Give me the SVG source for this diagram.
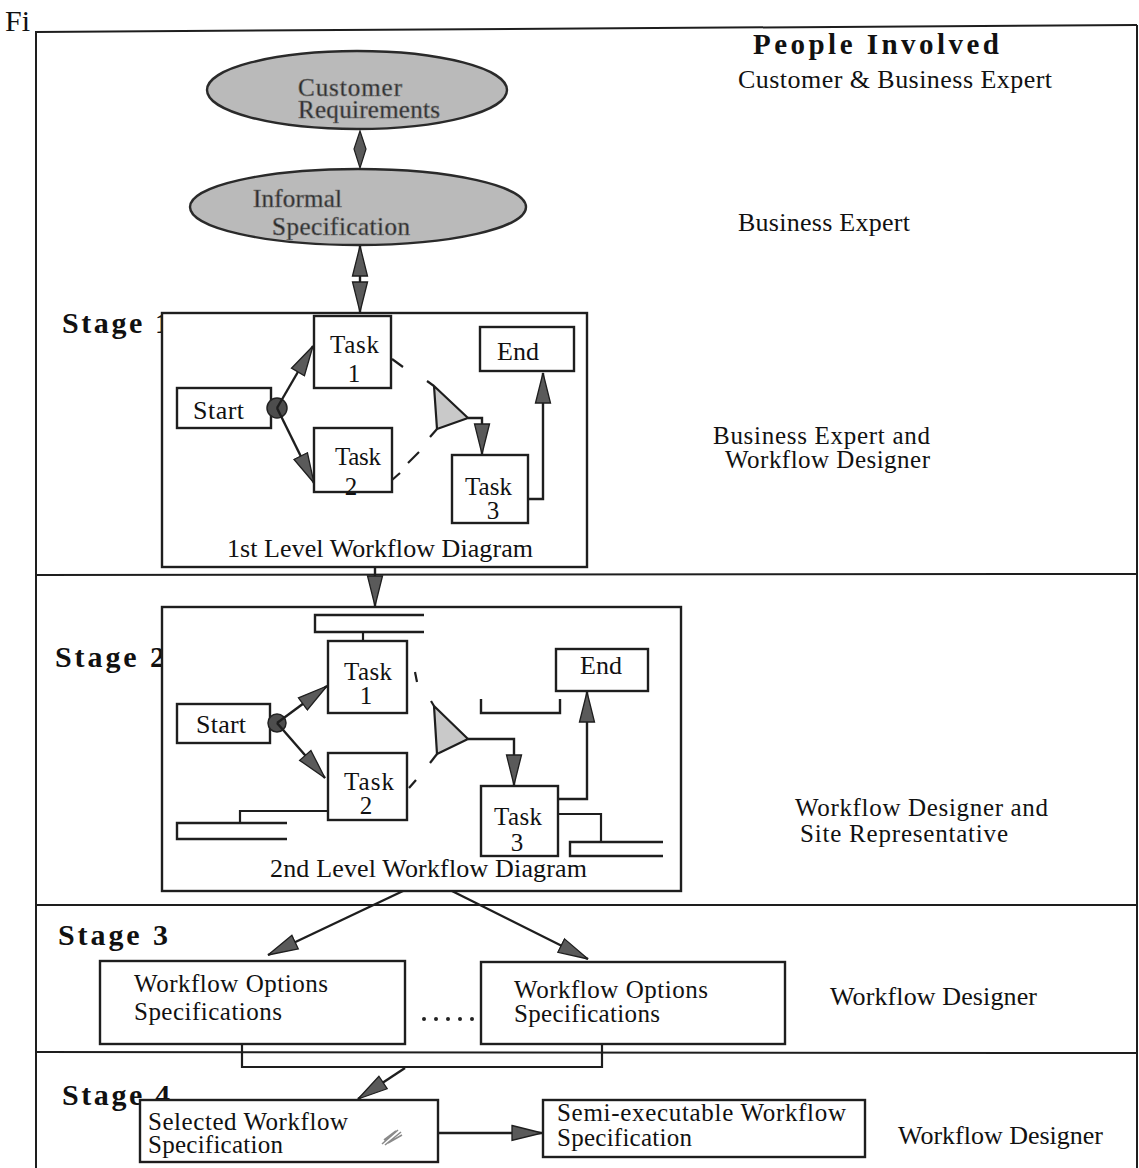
<svg xmlns="http://www.w3.org/2000/svg" width="1139" height="1168" viewBox="0 0 1139 1168">
  <style>
    text { font-family: "Liberation Serif", "Times New Roman", serif; fill: #111; }
    .t { font-size: 26px; }
    .s { font-size: 25px; }
    .stage { font-size: 30px; font-weight: bold; }
    .head { font-size: 29px; font-weight: bold; }
    .frame { fill: none; stroke: #1e1e1e; stroke-width: 2; }
    .box { fill: #fff; stroke: #1e1e1e; stroke-width: 2.4; }
    .oval { fill: #bababa; stroke: #2a2a2a; stroke-width: 2.4; }
    .oval-text { font-size: 25px; fill: #262626; stroke: #6e6e6e; stroke-width: 0.7; }
    .ln { fill: none; stroke: #1e1e1e; stroke-width: 2.2; }
    .arr { fill: none; stroke: #1e1e1e; stroke-width: 2.4; marker-end: url(#ah); }
    .bracket { fill: none; stroke: #1e1e1e; stroke-width: 2.4; }
    .merge { fill: #c9c9c9; stroke: #1e1e1e; stroke-width: 2.2; stroke-linejoin: round; }
  </style>
  <defs>
    <marker id="ah" viewBox="0 0 32 18" refX="31" refY="9" markerWidth="32" markerHeight="18" markerUnits="userSpaceOnUse" orient="auto-start-reverse">
      <path d="M1,1.5 L31,9 L1,16.5 Z" fill="#5a5a5a" stroke="#1e1e1e" stroke-width="1.3"/>
    </marker>
  </defs>

  <rect width="1139" height="1168" fill="#fff"/>

  <!-- figure caption fragment and outer frame -->
  <text x="5" y="31" style="font-size:30px">Fi</text>
  <g id="frame">
    <line class="frame" x1="36" y1="32" x2="1137" y2="25"/>
    <line class="frame" x1="36" y1="31" x2="36" y2="1168"/>
    <line class="frame" x1="1137" y1="25" x2="1137" y2="1168"/>
    <line class="frame" x1="36" y1="575" x2="1137" y2="574"/>
    <line class="frame" x1="36" y1="905" x2="1137" y2="905"/>
    <line class="frame" x1="36" y1="1052" x2="1137" y2="1053"/>
  </g>

  <!-- people column -->
  <g id="people">
    <text class="head" x="753" y="54" textLength="246">People Involved</text>
    <text class="t" x="738" y="88" textLength="314">Customer &amp; Business Expert</text>
    <text class="t" x="738" y="231" textLength="172">Business Expert</text>
    <text class="s" x="713" y="444" textLength="217">Business Expert and</text>
    <text class="s" x="725" y="468" textLength="205">Workflow Designer</text>
    <text class="s" x="795" y="816" textLength="253">Workflow Designer and</text>
    <text class="s" x="800" y="842" textLength="208">Site Representative</text>
    <text class="t" x="830" y="1005" textLength="207">Workflow Designer</text>
    <text class="t" x="898" y="1144" textLength="205">Workflow Designer</text>
  </g>

  <!-- stage labels -->
  <g id="stage-labels">
    <text class="stage" x="62" y="333" textLength="108">Stage 1</text>
    <text class="stage" x="55" y="667" textLength="110">Stage 2</text>
    <text class="stage" x="58" y="945" textLength="110">Stage 3</text>
    <text class="stage" x="62" y="1105" textLength="108">Stage 4</text>
  </g>

  <!-- requirement ovals -->
  <g id="customer-requirements">
    <ellipse class="oval" cx="357" cy="90" rx="150" ry="39"/>
    <text class="oval-text" x="298" y="96" textLength="104">Customer</text>
    <text class="oval-text" x="298" y="118" textLength="142">Requirements</text>
  </g>
  <g id="informal-specification">
    <ellipse class="oval" cx="358" cy="207" rx="168" ry="38"/>
    <text class="oval-text" x="253" y="207" textLength="89">Informal</text>
    <text class="oval-text" x="272" y="235" textLength="138">Specification</text>
  </g>

  <!-- stage 1: first level workflow -->
  <g id="stage1-diagram">
    <rect class="box" x="162" y="313" width="425" height="254" fill="none"/>
    <text class="t" x="227" y="557" textLength="306">1st Level Workflow Diagram</text>
  </g>
  <g id="s1-start">
    <rect class="box" x="177" y="388" width="94" height="40"/>
    <text class="t" x="193" y="419" textLength="51">Start</text>
  </g>
  <g id="s1-task1">
    <rect class="box" x="314" y="316" width="77" height="72"/>
    <text class="s" x="330" y="353" textLength="49">Task</text>
    <text class="s" x="354" y="382" text-anchor="middle">1</text>
  </g>
  <g id="s1-task2">
    <rect class="box" x="314" y="428" width="78" height="64"/>
    <text class="s" x="335" y="465" textLength="46">Task</text>
    <text class="s" x="351" y="495" text-anchor="middle">2</text>
  </g>
  <g id="s1-task3">
    <rect class="box" x="452" y="455" width="76" height="68"/>
    <text class="s" x="465" y="495" textLength="47">Task</text>
    <text class="s" x="493" y="519" text-anchor="middle">3</text>
  </g>
  <g id="s1-end">
    <rect class="box" x="480" y="327" width="94" height="44"/>
    <text class="t" x="497" y="360" textLength="42">End</text>
  </g>
  <g id="s1-merge">
    <path class="merge" d="M434,386 L468,418 L437,429 Z"/>
    <line class="ln" x1="434" y1="386" x2="427" y2="381"/>
    <line class="ln" x1="437" y1="429" x2="430" y2="437"/>
  </g>
  <g id="s1-fork">
    <circle cx="277" cy="408" r="10" fill="#4d4d4d" stroke="#222" stroke-width="1.5"/>
  </g>

  <!-- stage 2: second level workflow -->
  <g id="stage2-diagram">
    <rect class="box" x="162" y="607" width="519" height="284" fill="none"/>
    <text class="t" x="270" y="877" textLength="317">2nd Level Workflow Diagram</text>
  </g>
  <g id="s2-start">
    <rect class="box" x="177" y="704" width="93" height="39"/>
    <text class="t" x="196" y="733" textLength="50">Start</text>
  </g>
  <g id="s2-task1">
    <rect class="box" x="328" y="641" width="79" height="72"/>
    <text class="s" x="344" y="680" textLength="48">Task</text>
    <text class="s" x="366" y="704" text-anchor="middle">1</text>
  </g>
  <g id="s2-task2">
    <rect class="box" x="328" y="753" width="79" height="67"/>
    <text class="s" x="344" y="790" textLength="50">Task</text>
    <text class="s" x="366" y="814" text-anchor="middle">2</text>
  </g>
  <g id="s2-task3">
    <rect class="box" x="481" y="786" width="77" height="70"/>
    <text class="s" x="494" y="825" textLength="48">Task</text>
    <text class="s" x="517" y="851" text-anchor="middle">3</text>
  </g>
  <g id="s2-end">
    <rect class="box" x="556" y="649" width="92" height="42"/>
    <text class="t" x="580" y="674" textLength="42">End</text>
  </g>
  <g id="s2-merge">
    <path class="merge" d="M434,706 L468,739 L437,754 Z"/>
    <line class="ln" x1="434" y1="706" x2="431" y2="701"/>
    <line class="ln" x1="437" y1="754" x2="430" y2="763"/>
  </g>
  <g id="s2-fork">
    <circle cx="277" cy="723" r="9" fill="#4d4d4d" stroke="#222" stroke-width="1.5"/>
  </g>
  <g id="s2-brackets">
    <path class="bracket" d="M424,615 L315,615 L315,632 L424,632"/>
    <path class="bracket" d="M481,699 L481,713 L560,713 L560,699"/>
    <path class="bracket" d="M287,823 L177,823 L177,839 L287,839"/>
    <path class="bracket" d="M663,842 L570,842 L570,856 L663,856"/>
  </g>

  <!-- stage 3: workflow options -->
  <g id="options-a">
    <rect class="box" x="100" y="961" width="305" height="83"/>
    <text class="s" x="134" y="992" textLength="194">Workflow Options</text>
    <text class="s" x="134" y="1020" textLength="148">Specifications</text>
  </g>
  <g id="options-b">
    <rect class="box" x="481" y="962" width="304" height="82"/>
    <text class="s" x="514" y="998" textLength="194">Workflow Options</text>
    <text class="s" x="514" y="1022" textLength="146">Specifications</text>
  </g>
  <g id="options-ellipsis" fill="#222">
    <circle cx="424" cy="1019" r="2"/>
    <circle cx="436" cy="1019" r="2"/>
    <circle cx="448" cy="1019" r="2"/>
    <circle cx="460" cy="1019" r="2"/>
    <circle cx="472" cy="1019" r="2"/>
  </g>

  <!-- stage 4: selected and semi-executable specifications -->
  <g id="selected-spec">
    <rect class="box" x="140" y="1100" width="298" height="62"/>
    <text class="s" x="148" y="1130" textLength="200">Selected Workflow</text>
    <text class="s" x="148" y="1153" textLength="135">Specification</text>
    <path d="M382,1144 L398,1130 M385,1145 L401,1132 M388,1143 L402,1135 M384,1140 L396,1131" stroke="#8a8a8a" stroke-width="1.6" fill="none"/>
  </g>
  <g id="semi-executable-spec">
    <rect class="box" x="543" y="1100" width="322" height="57"/>
    <text class="s" x="557" y="1121" textLength="289">Semi-executable Workflow</text>
    <text class="s" x="557" y="1146" textLength="135">Specification</text>
  </g>

  <!-- connectors -->
  <g id="connectors">
    <!-- requirements to informal spec -->
    <polygon points="360,131 366,149 360,168 354,149" fill="#5a5a5a" stroke="#1e1e1e" stroke-width="1.2"/>
    <!-- informal spec to stage 1 (two-way) -->
    <line class="arr" x1="360" y1="246" x2="360" y2="312" style="marker-start:url(#ah)"/>

    <!-- stage 1 flows -->
    <line class="arr" x1="277" y1="408" x2="313" y2="346"/>
    <line class="arr" x1="277" y1="408" x2="314" y2="483"/>
    <line class="ln" x1="392" y1="359" x2="403" y2="367"/>
    <line class="ln" x1="392" y1="480" x2="400" y2="473"/>
    <line class="ln" x1="408" y1="463" x2="419" y2="452"/>
    <path class="arr" d="M468,418 L482,418 L482,454"/>
    <path class="arr" d="M528,499 L543,499 L543,373"/>

    <!-- stage 1 to stage 2 -->
    <line class="arr" x1="375" y1="567" x2="375" y2="606"/>

    <!-- stage 2 flows -->
    <line class="ln" x1="363" y1="632" x2="363" y2="641"/>
    <line class="arr" x1="277" y1="723" x2="327" y2="686"/>
    <line class="arr" x1="277" y1="723" x2="325" y2="778"/>
    <line class="ln" x1="415" y1="672" x2="417" y2="682"/>
    <line class="ln" x1="409" y1="788" x2="416" y2="780"/>
    <path class="arr" d="M468,739 L514,739 L514,785"/>
    <path class="arr" d="M558,799 L587,799 L587,692"/>
    <path class="ln" d="M558,814 L601,814 L601,842"/>
    <path class="ln" d="M328,811 L240,811 L240,823"/>

    <!-- stage 2 to stage 3 -->
    <line class="arr" x1="403" y1="891" x2="268" y2="955"/>
    <line class="arr" x1="452" y1="891" x2="588" y2="959"/>

    <!-- stage 3 to stage 4 -->
    <path class="ln" d="M242,1044 L242,1067 L602,1067 L602,1044"/>
    <line class="arr" x1="405" y1="1068" x2="358" y2="1099"/>
    <line class="arr" x1="438" y1="1133" x2="542" y2="1133"/>
  </g>
</svg>
